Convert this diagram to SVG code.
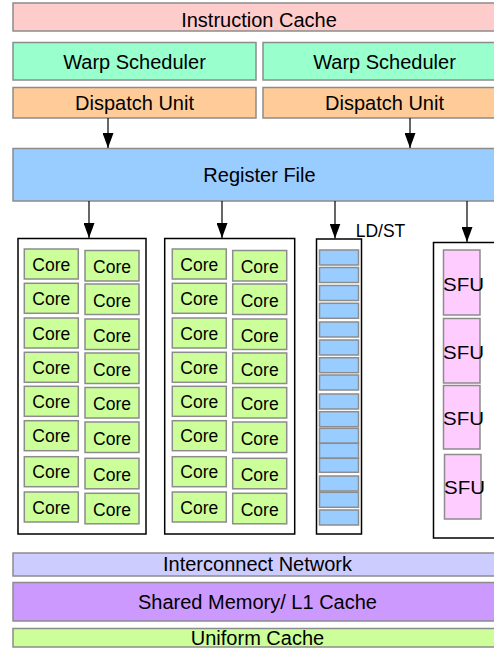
<svg xmlns="http://www.w3.org/2000/svg" width="494" height="649" viewBox="0 0 494 649">
<style>
text{font-family:"Liberation Sans",Arial,sans-serif;fill:#000;text-anchor:middle}
.b{stroke:#8c8c8c;stroke-width:1.5}
.t20{font-size:20px}
.t17{font-size:17.5px}
.ic{fill:#ffcccc}.ws{fill:#99ffcc}.du{fill:#ffcc99}.rf{fill:#99ccff}
.co{fill:#ccff99}.ls{fill:#99ccff}.sf{fill:#ffccff}.in{fill:#ccccff}.sm{fill:#cc99ff}.uc{fill:#ccff99}
.fr{fill:#fff;stroke:#000;stroke-width:1.5}
.ar{stroke:#000;stroke-width:1.2;fill:none}
</style>
<defs>
<marker id="ah" markerWidth="15" markerHeight="11" refX="15" refY="5.5" orient="auto" markerUnits="userSpaceOnUse" viewBox="0 0 15 11">
<path d="M0,0 L15,5.5 L0,11 Z" fill="#000"/>
</marker>
<g id="core"><rect class="b co" x="0" y="0" width="54" height="30"/><text class="t17" x="27" y="21.5">Core</text></g>
<g id="core2"><rect class="b co" x="0" y="0" width="54" height="30.5"/><text class="t17" x="27" y="22.5">Core</text></g>
</defs>

<g id="instruction-cache"><rect class="b ic" x="13" y="3" width="495" height="28"/><text class="t20" x="259" y="26.5">Instruction Cache</text></g>
<g id="warp-scheduler-1"><rect class="b ws" x="13" y="42.5" width="243" height="37.5"/><text class="t20" x="134.5" y="68.5">Warp Scheduler</text></g>
<g id="warp-scheduler-2"><rect class="b ws" x="263" y="42.5" width="243" height="37.5"/><text class="t20" x="384.5" y="68.5">Warp Scheduler</text></g>
<g id="dispatch-unit-1"><rect class="b du" x="13" y="87.5" width="243" height="30.5"/><text class="t20" x="134.5" y="110">Dispatch Unit</text></g>
<g id="dispatch-unit-2"><rect class="b du" x="263" y="87.5" width="243" height="30.5"/><text class="t20" x="384.5" y="110">Dispatch Unit</text></g>
<g id="register-file"><rect class="b rf" x="13" y="148.5" width="495" height="52.5"/><text class="t20" x="259.5" y="182">Register File</text></g>

<g id="core-group-1">
<rect class="fr" x="18" y="238.5" width="128" height="295.5"/>
<use href="#core" x="24.3" y="249"/><use href="#core2" x="85" y="250.5"/>
<use href="#core" x="24.3" y="283.3"/><use href="#core2" x="85" y="284"/>
<use href="#core" x="24.3" y="318"/><use href="#core2" x="85" y="319"/>
<use href="#core" x="24.3" y="352.3"/><use href="#core2" x="85" y="353"/>
<use href="#core" x="24.3" y="386.3"/><use href="#core2" x="85" y="387.5"/>
<use href="#core" x="24.3" y="420.7"/><use href="#core2" x="85" y="422"/>
<use href="#core" x="24.3" y="456.7"/><use href="#core2" x="85" y="458.3"/>
<use href="#core" x="24.3" y="492"/><use href="#core2" x="85" y="493.3"/>
</g>

<g id="core-group-2">
<rect class="fr" x="164.7" y="238.5" width="130" height="295.5"/>
<use href="#core" x="172.3" y="249"/><use href="#core2" x="232.7" y="250.5"/>
<use href="#core" x="172.3" y="283.3"/><use href="#core2" x="232.7" y="284"/>
<use href="#core" x="172.3" y="318"/><use href="#core2" x="232.7" y="319"/>
<use href="#core" x="172.3" y="352.3"/><use href="#core2" x="232.7" y="353"/>
<use href="#core" x="172.3" y="386.3"/><use href="#core2" x="232.7" y="387.5"/>
<use href="#core" x="172.3" y="420.7"/><use href="#core2" x="232.7" y="422"/>
<use href="#core" x="172.3" y="456.7"/><use href="#core2" x="232.7" y="458.3"/>
<use href="#core" x="172.3" y="492"/><use href="#core2" x="232.7" y="493.3"/>
</g>

<g id="ldst">
<rect class="fr" x="316.5" y="239" width="45" height="295"/>
<text class="t17" x="380.5" y="236.5">LD/ST</text>
<g class="b ls">
<rect x="319.5" y="250" width="39" height="15"/>
<rect x="319.5" y="267.5" width="39" height="15"/>
<rect x="319.5" y="285.5" width="39" height="15"/>
<rect x="319.5" y="303.3" width="39" height="15"/>
<rect x="319.5" y="322" width="39" height="15"/>
<rect x="319.5" y="340" width="39" height="15"/>
<rect x="319.5" y="357.7" width="39" height="15"/>
<rect x="319.5" y="375" width="39" height="15"/>
<rect x="319.5" y="394" width="39" height="15"/>
<rect x="319.5" y="411.7" width="39" height="15"/>
<rect x="319.5" y="428.3" width="39" height="15"/>
<rect x="319.5" y="443.3" width="39" height="15"/>
<rect x="319.5" y="458.3" width="39" height="14"/>
<rect x="319.5" y="476" width="39" height="15"/>
<rect x="319.5" y="492.3" width="39" height="15"/>
<rect x="319.5" y="510" width="39" height="15"/>
</g>
</g>

<g id="sfu-group">
<rect class="fr" x="433.5" y="242.5" width="80" height="295.5"/>
<g class="b sf">
<rect x="443.5" y="250" width="36.5" height="65"/>
<rect x="443.5" y="318.5" width="36.5" height="64.5"/>
<rect x="443.5" y="385.5" width="36.5" height="63.5"/>
<rect x="444.5" y="454.5" width="36.5" height="64.5"/>
</g>
<g style="font-size:18px">
<text x="463.5" y="290.5" textLength="41" lengthAdjust="spacingAndGlyphs">SFU</text>
<text x="463.5" y="358.5" textLength="41" lengthAdjust="spacingAndGlyphs">SFU</text>
<text x="463.5" y="424.5" textLength="41" lengthAdjust="spacingAndGlyphs">SFU</text>
<text x="464.5" y="494" textLength="41" lengthAdjust="spacingAndGlyphs">SFU</text>
</g>
</g>

<g id="interconnect-network"><rect class="b in" x="13" y="553" width="490" height="23"/><text class="t20" x="257.5" y="571">Interconnect Network</text></g>
<g id="shared-memory"><rect class="b sm" x="13" y="582.5" width="490" height="38.5"/><text class="t20" x="257.5" y="609">Shared Memory/ L1 Cache</text></g>
<g id="uniform-cache"><rect class="b uc" x="13" y="628.5" width="490" height="18.5"/><text class="t20" x="257.5" y="644.5">Uniform Cache</text></g>

<g id="connectors" class="ar">
<line x1="108" y1="118" x2="108" y2="148" marker-end="url(#ah)"/>
<line x1="410" y1="118" x2="410" y2="148" marker-end="url(#ah)"/>
<line x1="89" y1="201" x2="89" y2="238" marker-end="url(#ah)"/>
<line x1="222" y1="201" x2="222" y2="238" marker-end="url(#ah)"/>
<line x1="335" y1="201" x2="335" y2="238.5" marker-end="url(#ah)"/>
<line x1="467" y1="201" x2="467" y2="242" marker-end="url(#ah)"/>
</g>
</svg>
